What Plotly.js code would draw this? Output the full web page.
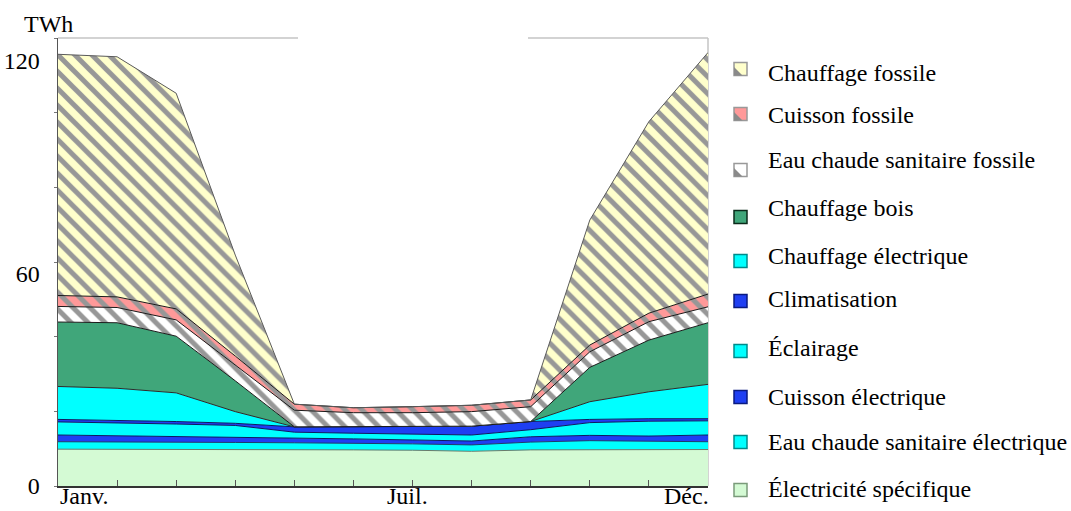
<!DOCTYPE html>
<html>
<head>
<meta charset="utf-8">
<script src="https://cdn.plot.ly/plotly-3.0.1.min.js"></script>
<style>
html,body{margin:0;padding:0;background:#fff;}
#chart{width:1071px;height:511px;}
</style>
</head>
<body>
<div id="chart"></div>
<script>
// ---- Data (TWh par mois) ----
const months = ['Janv.','Févr.','Mars','Avr.','Mai','Juin','Juil.','Août','Sept.','Oct.','Nov.','Déc.'];
const shownMonthLabels = ['Janv.','Juil.','Déc.'];
const yTickValues = [0, 60, 120];
const yTickLabels = ['0', '60', '120'];
const yAxisTitle = 'TWh';

const electriciteSpecifique = [10.4,10.4,10.4,10.4,10.3,10.2,10.1,9.8,10.2,10.3,10.3,10.3];
const eauChaudeElectrique   = [2.1,2.1,2.1,1.9,1.9,1.9,1.8,1.8,2.2,2.5,2.3,2.2];
const cuissonElectrique     = [1.9,1.7,1.6,1.6,1.4,1.2,1.1,1.1,1.5,1.5,1.5,1.9];
const eclairage             = [3.7,3.7,3.4,3.2,1.6,1.6,1.6,1.7,2.0,3.6,4.2,4.0];
const climatisation         = [0.7,0.7,0.7,0.6,1.5,1.8,2.1,2.5,2.3,0.9,0.7,0.6];
const chauffageElectrique   = [9.3,9.0,8.1,3.3,0,0,0,0,0,5.0,7.6,9.7];
const chauffageBois         = [18.2,18.5,16.0,8.7,0,0,0,0,0,9.7,14.6,17.4];
const eauChaudeFossile      = [4.4,4.3,4.6,4.5,4.7,4.0,4.0,4.1,4.2,4.4,5.2,4.5];
const cuissonFossile        = [3.1,3.0,3.1,2.5,1.7,1.4,1.7,1.8,1.9,1.9,2.4,3.6];
const chauffageFossile      = [68.1,67.8,60.9,28.5,0,0,0,0,0,35.3,54.1,68.2];

// ---- Styles ----
const FONT = 'Liberation Serif, Times New Roman, serif';
const stripe = '#979797';
// bottom to top stacking order
const layers = [
  {name:'Électricité spécifique',            y: electriciteSpecifique, color:'#D4FAD4', line:'#6a7a6a', border:'#7a9a7a'},
  {name:'Eau chaude sanitaire électrique',   y: eauChaudeElectrique,   color:'#00FFFF', line:'#1a3a6a', border:'#008a8a'},
  {name:'Cuisson électrique',                y: cuissonElectrique,     color:'#1F3FF2', line:'#0a1a60', border:'#0a1a80'},
  {name:'Éclairage',                         y: eclairage,             color:'#00FFFF', line:'#0a1a60', border:'#008a8a'},
  {name:'Climatisation',                     y: climatisation,         color:'#1F3FF2', line:'#0a1a60', border:'#0a1a80'},
  {name:'Chauffage électrique',              y: chauffageElectrique,   color:'#00FFFF', line:'#2a2a2a', border:'#008a8a'},
  {name:'Chauffage bois',                    y: chauffageBois,         color:'#40A67A', line:'#1a1a1a', border:'#0a2a1a'},
  {name:'Eau chaude sanitaire fossile',      y: eauChaudeFossile,      color:'#FFFFFF', line:'#1a1a1a', border:'#999', pattern:true},
  {name:'Cuisson fossile',                   y: cuissonFossile,        color:'#FF9999', line:'#1a1a1a', border:'#999', pattern:true},
  {name:'Chauffage fossile',                 y: chauffageFossile,      color:'#FFFFCC', line:'#5a5a5a', border:'#999', pattern:true}
];

const xIdx = months.map((_, i) => i);

const traces = layers.map(l => {
  const t = {
    type:'scatter', mode:'lines', name:l.name,
    x: xIdx, y: l.y, stackgroup:'one',
    line:{color:l.line, width:1},
    fillcolor:l.color, showlegend:false, hoverinfo:'skip'
  };
  if (l.pattern) {
    t.fillpattern = {shape:'\\', bgcolor:l.color, fgcolor:stripe, size:12, solidity:0.42};
  }
  return t;
});

// ---- geometry helpers (pixel -> paper) ----
const L = 58, R = 708, T = 38, B = 486;
const PX = p => (p - L) / (R - L);
const PY = p => (B - p) / (B - T);

const shapes = [];
const annotations = [];

// top frame (broken in the middle) and right frame
shapes.push({type:'line', xref:'paper', yref:'paper', x0:0, x1:PX(298), y0:1, y1:1, line:{color:'#c4c4c4', width:1.5}, layer:'below'});
shapes.push({type:'line', xref:'paper', yref:'paper', x0:PX(528), x1:1, y0:1, y1:1, line:{color:'#c4c4c4', width:1.5}, layer:'below'});
shapes.push({type:'line', xref:'paper', yref:'paper', x0:1, x1:1, y0:0, y1:1, line:{color:'#c4c4c4', width:1.5}, layer:'below'});

// y-axis title
annotations.push({text:yAxisTitle, xref:'paper', yref:'paper', x:PX(22), y:PY(24), xanchor:'left', yanchor:'middle', showarrow:false, font:{family:FONT, size:24, color:'#000'}});

// x month labels
const monthAnchor = {'Janv.':'left', 'Juil.':'center', 'Déc.':'right'};
const monthShift = {'Janv.':0, 'Juil.':-5, 'Déc.':3};
shownMonthLabels.forEach(m => {
  annotations.push({text:m, xref:'x', yref:'paper', x:months.indexOf(m), y:PY(496), xanchor:monthAnchor[m], yanchor:'middle', xshift:monthShift[m], showarrow:false, font:{family:FONT, size:24, color:'#000'}});
});

// custom legend (top to bottom)
const legendOrder = layers.slice().reverse();
const textY = [73, 115, 160, 208, 256, 299, 348, 397, 442, 489];
const boxY  = [69, 114, 170, 217, 261, 301, 351, 397, 442, 490];
legendOrder.forEach((l, i) => {
  const cy = boxY[i];
  shapes.push({type:'rect', xref:'paper', yref:'paper', x0:PX(734), x1:PX(747), y0:PY(cy+6.5), y1:PY(cy-6.5), fillcolor:l.color, line:{color:l.border, width:1.5}});
  if (l.pattern) {
    shapes.push({type:'path', xref:'paper', yref:'paper',
      path:`M ${PX(734)} ${PY(cy+6.5)} L ${PX(734)} ${PY(cy-2)} L ${PX(742.5)} ${PY(cy+6.5)} Z`,
      fillcolor:'#8a8a8a', line:{width:0}});
  }
  annotations.push({text:l.name, xref:'paper', yref:'paper', x:PX(766), y:PY(textY[i]), xanchor:'left', yanchor:'middle', showarrow:false, font:{family:FONT, size:24, color:'#000'}});
});

const minorVals = [0,1,2,3,4,5,6].map(k => k * 126.5 / 6);

const layout = {
  width:1071, height:511,
  margin:{l:L, r:1071-R, t:T, b:511-B},
  paper_bgcolor:'#fff', plot_bgcolor:'#fff',
  showlegend:false,
  font:{family:FONT, size:24, color:'#000'},
  xaxis:{range:[0, months.length-1], showgrid:false, zeroline:false, showline:true, linecolor:'#333', linewidth:1.5,
         ticks:'inside', ticklen:6, tickcolor:'#555', tickvals:xIdx, showticklabels:false, fixedrange:true},
  yaxis:{range:[0,126.5], showgrid:false, zeroline:false, showline:true, linecolor:'#555', linewidth:1.5,
         tickvals:yTickValues, ticktext:yTickLabels, ticks:'', ticklabelstandoff:12,
         tickfont:{family:FONT, size:24, color:'#000'},
         minor:{tickmode:'array', tickvals:minorVals, ticks:'outside', ticklen:3, tickcolor:'#777', showgrid:false},
         fixedrange:true},
  shapes:shapes,
  annotations:annotations
};

Plotly.newPlot('chart', traces, layout, {staticPlot:true, displayModeBar:false});
</script>
</body>
</html>
